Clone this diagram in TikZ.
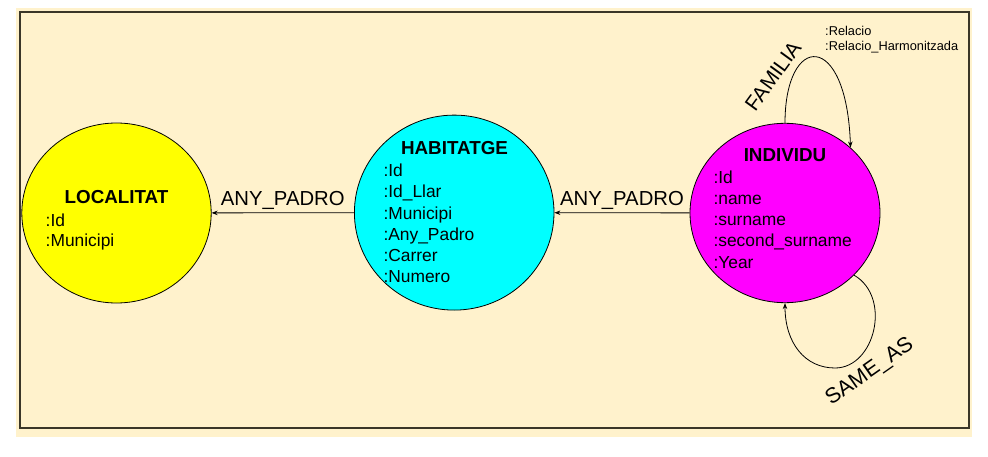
\documentclass[tikz,border=0pt]{standalone}
\usepackage{fontspec}
\setmainfont{Liberation Sans}
\usetikzlibrary{arrows.meta,shapes.geometric}
\definecolor{canvascream}{HTML}{FFF2CC}
\definecolor{framedark}{HTML}{3A3628}
\definecolor{locyellow}{HTML}{FFFF00}
\definecolor{habcyan}{HTML}{00FFFF}
\definecolor{indmagenta}{HTML}{FF00FF}

\begin{document}
\begin{tikzpicture}[x=1pt,y=-1pt,
  entity/.style={ellipse,draw=black,line width=0.8pt,inner sep=0pt},
  entitytitle/.style={font=\fontsize{18.8}{22}\selectfont\bfseries,anchor=base,inner sep=0pt},
  propline/.style={font=\fontsize{17.4}{21}\selectfont,anchor=base west,inner sep=0pt},
  rel/.style={line width=0.8pt,-{Stealth[length=6pt,width=4.5pt]}},
  rellabel/.style={font=\fontsize{20.3}{24}\selectfont,inner sep=0pt},
  relprop/.style={font=\fontsize{12.8}{15}\selectfont,anchor=base west,inner sep=0pt}]
  \useasboundingbox (0,0) rectangle (988,457);

  % Canvas
  \fill[canvascream] (16,8) rectangle (972,437);
  \draw[framedark,line width=2pt] (20,12) rectangle (969,428);

  % Entities
  \node[entity,fill=locyellow,minimum width=189.4pt,minimum height=180pt] (loc) at (116.5,213) {};
  \node[entity,fill=habcyan,minimum width=199.6pt,minimum height=195pt] (hab) at (454.2,212.6) {};
  \node[entity,fill=indmagenta,minimum width=190pt,minimum height=179.4pt] (indiv) at (785,213) {};

  % LOCALITAT
  \node[entitytitle] (loc-title) at (116.5,204) {LOCALITAT};
  \foreach \f [count=\i from 0] in {Id,Municipi}
    \node[propline] (loc-p\i) at (45.5,226+21*\i) {:\f};

  % HABITATGE
  \node[entitytitle] (hab-title) at (454.5,155) {HABITATGE};
  \foreach \f [count=\i from 0] in {Id,Id\_Llar,Municipi,Any\_Padro,Carrer,Numero}
    \node[propline] (hab-p\i) at (383.3,176.7+21.2*\i) {:\f};

  % INDIVIDU
  \node[entitytitle] (indiv-title) at (785,161.7) {INDIVIDU};
  \foreach \f [count=\i from 0] in {Id,name,surname,second\_surname,Year}
    \node[propline] (indiv-p\i) at (713.3,183.3+21.2*\i) {:\f};

  % Relationships
  \draw[rel] (hab) -- node[rellabel,anchor=base,yshift=7pt] (padro-hab) {ANY\_PADRO} (loc);
  \draw[rel] (indiv) -- node[rellabel,anchor=base,yshift=7pt] (padro-indiv) {ANY\_PADRO} (hab);

  % Self loops
  \draw[rel] (indiv.90) .. controls +(0,-90) and +(-4,-118) .. (indiv.45);
  \node[rellabel,rotate=54,font=\fontsize{20.8}{24}\selectfont] (familia) at (773,76) {FAMILIA};
  \node[relprop] (familia-p0) at (825,36) {:Relacio};
  \node[relprop] (familia-p1) at (825,50.7) {:Relacio\_Harmonitzada};

  \coordinate (samebot) at (835,368);
  \draw[rel] (indiv.-42) .. controls +(38,22) and +(40,0) .. (samebot)
    .. controls +(-30,0) and +(0,40) .. (indiv.-90);
  \node[rellabel,rotate=35,font=\fontsize{21.5}{25}\selectfont] (sameas) at (870,372) {SAME\_AS};
\end{tikzpicture}
\end{document}
